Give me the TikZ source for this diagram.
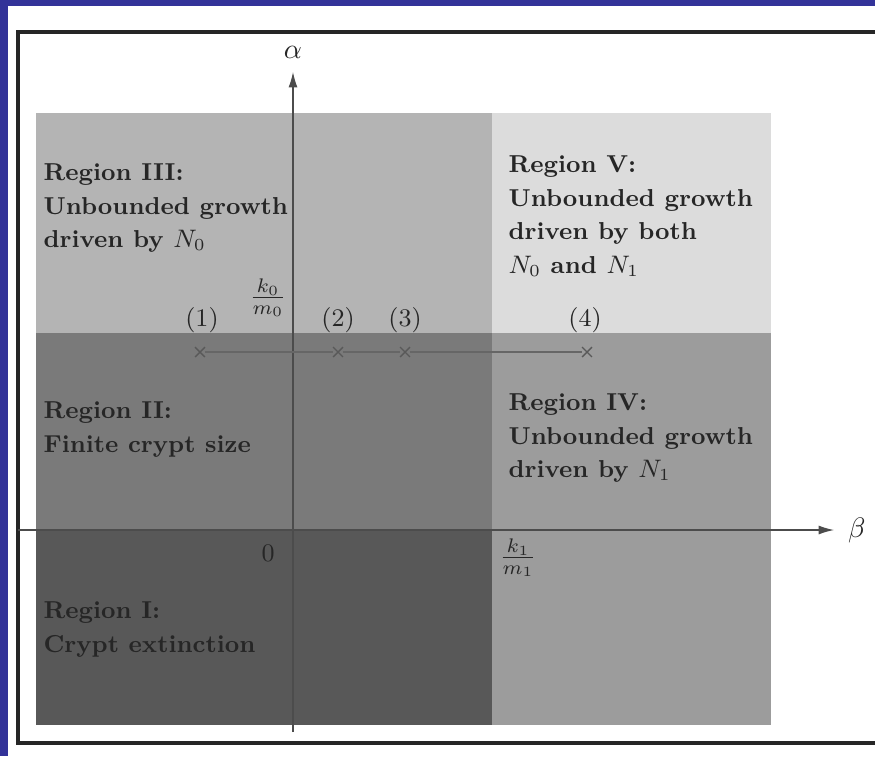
\documentclass[tikz,border=0pt]{standalone}
\usepackage{amsmath}
\usepackage{amssymb}
\usepackage{tikz}
\usetikzlibrary{arrows.meta}
\usetikzlibrary{shapes.misc}
\usetikzlibrary{positioning}
\definecolor{frameblue}{RGB}{51,51,153}
\definecolor{regI}{RGB}{88,88,88}
\definecolor{regII}{RGB}{122,122,122}
\definecolor{regIII}{RGB}{180,180,180}
\definecolor{regIV}{RGB}{156,156,156}
\definecolor{regV}{RGB}{220,220,220}
\tikzset{
regtext/.style = {anchor=north west, align=left, inner sep=0pt,
                  font=\fontsize{8.7}{12}\selectfont\bfseries, text=black!85},
xmark/.style = {cross out, draw=black!65, minimum size=#1,
                inner sep=0pt, outer sep=0pt, line width=0.5pt},
xmark/.default = 3.5pt, % size of the little cross
axisline/.style = {draw=black!70, line width=0.4pt,
                   -{Latex[length=5.5pt,width=3.2pt]}}
}
\newcommand{\xpt}[2]{\node[xmark] (#1) at (#2) {};}
\newcommand{\seg}[2]{\draw[black!60, line width=0.4pt] (#1) -- (#2);}

\begin{document}
\begin{tikzpicture}[x=0.0125cm, y=-0.0125cm]
        \useasboundingbox (0,0) rectangle (875,756);
        \fill[frameblue] (0,0) rectangle (875,6);
        \fill[frameblue] (0,0) rectangle (8,756);
        \draw[line width=1.1pt, black!85] (18,32) rectangle (890,743);
        % regions
        \fill[regIII] (36,113) rectangle (492,333);
        \fill[regV] (492,113) rectangle (771,333);
        \fill[regII] (36,333) rectangle (492,530);
        \fill[regIV] (492,333) rectangle (771,725);
        \fill[regI] (36,530) rectangle (492,725);
        % axes
        \coordinate (b0) at (18,530);
        \coordinate (b1) at (834,530);
        \coordinate (a0) at (293,732);
        \coordinate (a1) at (293,72);
        \draw[axisline] (b0) -- (b1);
        \draw[axisline] (a0) -- (a1);
        \node[above=1.2pt of a1, text=black!85] (alpha) {$\alpha$};
        \node[right=1.5pt of b1, text=black!85] (beta) {$\beta$};
        % points on the line
        \xpt{p1}{200,352};
        \xpt{p2}{338,352};
        \xpt{p3}{405,352};
        \xpt{p4}{587,352};
        \seg{p1}{p2};
        \seg{p2}{p3};
        \seg{p3}{p4};
        \node[text=black!85, font=\small] (l1) at (202,320) {(1)};
        \node[text=black!85, font=\small] (l2) at (338,320) {(2)};
        \node[text=black!85, font=\small] (l3) at (405,320) {(3)};
        \node[text=black!85, font=\small] (l4) at (585,320) {(4)};
        \node[text=black!85] (k0) at (268,298) {$\frac{k_0}{m_0}$};
        \node[text=black!85, font=\small] (zero) at (268,553) {0};
        \node[text=black!85] (k1) at (518,558) {$\frac{k_1}{m_1}$};
        % region texts
        \node[regtext] (r3) at (43,163) {Region III:\\ Unbounded growth\\ driven by $N_0$};
        \node[regtext] (r5) at (508,155) {Region V:\\ Unbounded growth\\ driven by both\\ $N_0$ and $N_1$};
        \node[regtext] (r2) at (43,401) {Region II:\\ Finite crypt size};
        \node[regtext] (r4) at (508,393) {Region IV:\\ Unbounded growth\\ driven by $N_1$};
        \node[regtext] (r1) at (43,601) {Region I:\\ Crypt extinction};
        \end{tikzpicture}
\end{document}
